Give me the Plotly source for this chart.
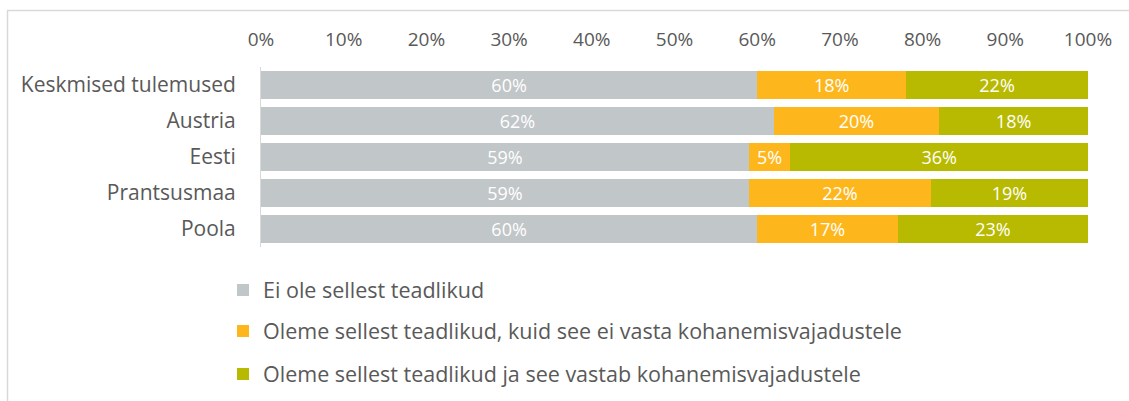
import plotly.graph_objects as go

categories = ["Keskmised tulemused", "Austria", "Eesti", "Prantsusmaa", "Poola"]
not_aware = [60, 62, 59, 59, 60]
aware_not_fit = [18, 20, 5, 22, 17]
aware_fit = [22, 18, 36, 19, 23]

series_names = [
    "Ei ole sellest teadlikud",
    "Oleme sellest teadlikud, kuid see ei vasta kohanemisvajadustele",
    "Oleme sellest teadlikud ja see vastab kohanemisvajadustele",
]
series_values = [not_aware, aware_not_fit, aware_fit]
colors = ["#C1C6C8", "#FDB71D", "#B7BA00"]
legend_ids = ["legend", "legend2", "legend3"]

FONT = "Open Sans"
TEXT_GRAY = "#595959"

# plot area in pixels (for placing legends / border in paper units)
W, H = 1129, 401
L, R, T, B = 261, 41, 67, 154
pw, ph = W - L - R, H - T - B


def px_x(x):
    return (x - L) / pw


def px_y(y):
    return (H - B - y) / ph


fig = go.Figure()
for name, vals, col, lg in zip(series_names, series_values, colors, legend_ids):
    fig.add_trace(go.Bar(
        y=categories,
        x=[v / 100 for v in vals],
        name=name,
        orientation="h",
        marker=dict(color=col, line=dict(width=0)),
        text=[f"{v}%" for v in vals],
        textposition="inside",
        insidetextanchor="middle",
        textangle=0,
        constraintext="none",
        textfont=dict(color="white", size=18, family=FONT),
        legend=lg,
    ))

legend_rows = [290, 331, 374]
legend_common = dict(
    font=dict(size=21.5, color=TEXT_GRAY, family=FONT),
    bgcolor="rgba(0,0,0,0)",
    xanchor="left",
    yanchor="middle",
    orientation="v",
)
layout_legends = {}
for lg, row in zip(legend_ids, legend_rows):
    layout_legends[lg] = dict(x=px_x(223), y=px_y(row), **legend_common)

fig.update_layout(
    width=W,
    height=H,
    barmode="stack",
    bargap=0.2,
    margin=dict(l=L, r=R, t=T, b=B, autoexpand=False),
    paper_bgcolor="white",
    plot_bgcolor="white",
    font=dict(family=FONT, color=TEXT_GRAY),
    showlegend=True,
    xaxis=dict(
        side="top",
        range=[0, 1],
        tickvals=[i / 10 for i in range(11)],
        tickformat=".0%",
        showgrid=False,
        zeroline=False,
        showline=False,
        ticks="",
        ticklabelstandoff=16,
        tickfont=dict(size=19, color=TEXT_GRAY, family=FONT),
    ),
    yaxis=dict(
        autorange="reversed",
        showgrid=False,
        zeroline=False,
        showline=True,
        linecolor="#D9D9D9",
        linewidth=1,
        ticks="",
        ticklabelstandoff=20,
        tickfont=dict(size=21, color=TEXT_GRAY, family=FONT),
    ),
    shapes=[dict(
        type="rect", xref="paper", yref="paper",
        x0=px_x(7.5), x1=px_x(W + 20), y0=px_y(H + 20), y1=px_y(10.5),
        line=dict(color="#D9D9D9", width=1.5),
        fillcolor="rgba(0,0,0,0)",
        layer="below",
    )],
    **layout_legends,
)

fig.write_html("out.html")
